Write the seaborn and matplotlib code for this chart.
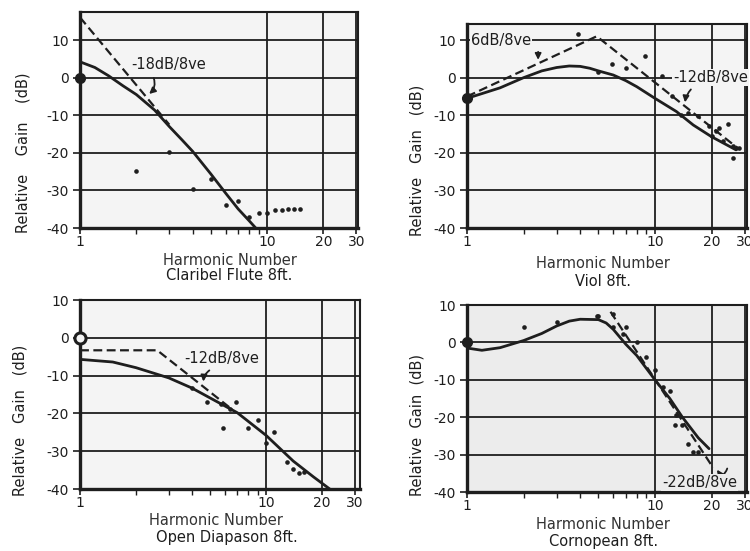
import matplotlib
matplotlib.use("Agg")
import matplotlib.pyplot as plt
import seaborn as sns
from matplotlib.ticker import FixedLocator, FixedFormatter, NullFormatter

sns.set_theme(style="ticks")
plt.rcParams['font.family'] = ['DejaVu Sans']
plt.rcParams['axes.unicode_minus'] = False

INK = '#1e1e1e'

# ---- Claribel Flute 8ft. ----
flute_curve_x = [1, 1.2, 1.42, 1.7, 2, 2.5, 3, 3.5, 4, 5, 6, 7, 8, 8.7]
flute_curve_y = [4.2, 2.7, 0.5, -2.2, -4.5, -8.6, -13.0, -16.5, -19.6, -25.6, -30.7, -34.9, -38.0, -40.0]
flute_dash_x = [1, 3]
flute_dash_y = [16, -12.5]
flute_pts_x = [2, 3, 4, 5, 6, 7, 8, 9, 10, 11, 12, 13, 14, 15]
flute_pts_y = [-24.9, -19.7, -29.7, -27.0, -33.9, -32.9, -37.0, -36.1, -36.0, -35.2, -35.1, -35.0, -35.0, -35.0]

# ---- Viol 8ft. ----
viol_curve_x = [1, 1.5, 2, 2.5, 3, 3.5, 4, 4.5, 5, 6, 7, 8, 10, 13, 16, 20, 27]
viol_curve_y = [-5.5, -2.7, 0.0, 1.8, 2.7, 3.1, 3.0, 2.5, 1.8, 0.7, -0.8, -2.4, -5.5, -9.0, -12.6, -15.7, -19.2]
viol_dash_x = [1, 4.9, 28]
viol_dash_y = [-5.0, 11.0, -19.0]
viol_pts_x = [3.9, 5.0, 5.9, 7.0, 8.9, 10.9, 12.3, 13.7, 15, 17, 19.5, 20, 21, 22, 23, 24.6, 26, 26, 27, 28]
viol_pts_y = [11.5, 1.6, 3.5, 2.5, 5.8, 0.5, -5.0, -9.8, -9.4, -10.3, -12.9, -15.5, -14.2, -13.3, -16.8, -12.3, -18.2, -21.4, -18.6, -18.8]

# ---- Open Diapason 8ft. ----
diap_curve_x = [1, 1.5, 2, 3, 4, 5, 7, 10, 14, 18, 22]
diap_curve_y = [-5.7, -6.4, -7.9, -10.6, -13.3, -15.9, -19.8, -25.8, -32.6, -36.8, -40.0]
diap_dash_x = [1, 2.6, 6.4]
diap_dash_y = [-3.3, -3.3, -18.5]
diap_pts_x = [4, 4.8, 5.7, 6.4, 5.9, 6.9, 8, 9, 10, 11, 13, 14, 15, 16]
diap_pts_y = [-13.2, -17.0, -17.4, -18.9, -23.8, -17.0, -23.8, -21.8, -27.9, -24.9, -32.8, -34.7, -35.8, -35.6]

# ---- Cornopean 8ft. ----
corn_curve_x = [1, 1.2, 1.5, 2, 2.5, 3, 3.5, 4, 5, 5.5, 6, 7, 8, 10, 12, 14, 17, 19.4]
corn_curve_y = [-1.5, -2.1, -1.4, 0.5, 2.4, 4.4, 5.7, 6.2, 6.1, 5.2, 3.5, -0.5, -3.5, -10.0, -15.0, -20.0, -25.5, -28.4]
corn_dash_x = [5.8, 20.4]
corn_dash_y = [8.2, -33.5]
corn_pts_x = [2, 3, 4.9, 5, 6, 6, 6.8, 7, 8, 9, 10, 11, 12, 13, 12.8, 14, 15, 16, 17]
corn_pts_y = [4.1, 5.4, 7.2, 7.2, 7.6, 4.1, 2.3, 4.0, 0.0, -3.9, -7.3, -12.0, -13.0, -19.5, -22.0, -22.0, -27.2, -29.2, -29.2]

fig = plt.figure(figsize=(7.5, 5.51), dpi=100)
fig.patch.set_facecolor('white')


def setup_axes(ax, xmax, ymax, face):
    ax.set_xscale('log')
    ax.set_xlim(1, xmax)
    ax.set_ylim(-40, ymax)
    ax.set_facecolor(face)
    ax.xaxis.set_major_locator(FixedLocator([1, 10, 20, 30]))
    ax.xaxis.set_major_formatter(FixedFormatter(['1', '10', '20', '30']))
    ax.xaxis.set_minor_locator(FixedLocator([2, 3, 4, 5, 6, 7, 8, 9]))
    ax.xaxis.set_minor_formatter(NullFormatter())
    ax.yaxis.set_major_locator(FixedLocator([-40, -30, -20, -10, 0, 10]))
    ax.grid(True, which='major', color=INK, lw=1.3)
    ax.set_axisbelow(True)
    ax.tick_params(axis='x', which='major', length=4, width=1.2, labelsize=10,
                   color=INK, labelcolor=INK, pad=1)
    ax.tick_params(axis='x', which='minor', length=4, width=1.0, color=INK)
    ax.tick_params(axis='y', length=5, width=1.2, labelsize=10, color=INK,
                   labelcolor=INK, pad=3)
    for side in ['top', 'right']:
        ax.spines[side].set_color(INK)
        ax.spines[side].set_linewidth(1.5)
    for side in ['left', 'bottom']:
        ax.spines[side].set_color(INK)
        ax.spines[side].set_linewidth(2.4)


def draw_panel(ax, cx, cy, dx, dy, px, py, name, label_pos, ylab_pos, ylab):
    sns.lineplot(x=cx, y=cy, ax=ax, color=INK, lw=2.0, estimator=None, sort=True)
    sns.lineplot(x=dx, y=dy, ax=ax, color=INK, lw=1.6, estimator=None,
                 linestyle=(0, (4, 2)))
    sns.scatterplot(x=px, y=py, ax=ax, color=INK, s=11, linewidth=0, zorder=4)
    ax.set_ylabel(ylab, fontsize=10.5, color=INK, va='center')
    ax.yaxis.set_label_coords(*ylab_pos)
    ax.set_xlabel('Harmonic Number', fontsize=10.5, color='#333333', va='center')
    ax.xaxis.set_label_coords(label_pos[0], label_pos[1])
    ax.text(label_pos[2], label_pos[3], name, transform=ax.transAxes,
            ha='center', va='center', fontsize=10.5, color=INK)


arrow = dict(arrowstyle='-|>', color=INK, lw=1.3, mutation_scale=9)

# Claribel Flute
ax1 = fig.add_axes([0.1067, 0.586, 0.371, 0.3926])
setup_axes(ax1, 30.7, 17.5, '#f4f4f4')
draw_panel(ax1, flute_curve_x, flute_curve_y, flute_dash_x, flute_dash_y,
           flute_pts_x, flute_pts_y, 'Claribel Flute 8ft.',
           (0.54, -0.151, 0.536, -0.219), (-0.205, 0.35),
           'Relative    Gain    (dB)')
ax1.plot([1], [0], 'o', color=INK, ms=7, clip_on=False, zorder=6)
ax1.text(2.96, 3.4, '-18dB/8ve', ha='center', va='center', fontsize=10.5, color=INK)
ax1.annotate('', xy=(2.28, -4.8), xytext=(2.45, 0.6),
             arrowprops=dict(arrow, connectionstyle='arc3,rad=-0.4'))

# Viol
ax2 = fig.add_axes([0.6227, 0.586, 0.3737, 0.370])
setup_axes(ax2, 31, 14.2, '#f4f4f4')
draw_panel(ax2, viol_curve_x, viol_curve_y, viol_dash_x, viol_dash_y,
           viol_pts_x, viol_pts_y, 'Viol 8ft.',
           (0.486, -0.172, 0.486, -0.26), (-0.179, 0.333),
           'Relative   Gain   (dB)')
ax2.plot([1], [-5.5], 'o', color=INK, ms=7, clip_on=False, zorder=6)
ax2.text(1.05, 10, '6dB/8ve', ha='left', va='center', fontsize=10.5, color=INK,
         bbox=dict(boxstyle='square,pad=0.05', fc='#f4f4f4', ec='none'), zorder=5)
ax2.annotate('', xy=(2.39, 4.0), xytext=(2.39, 7.6), arrowprops=arrow)
ax2.text(12.5, 0, '-12dB/8ve', ha='left', va='center', fontsize=10.5, color=INK,
         clip_on=False, bbox=dict(boxstyle='square,pad=0.05', fc='#f4f4f4', ec='none'),
         zorder=5)
ax2.annotate('', xy=(14.4, -7.3), xytext=(15.9, -2.6),
             arrowprops=dict(arrow, connectionstyle='arc3,rad=0.2'))

# Open Diapason
ax3 = fig.add_axes([0.1067, 0.1125, 0.3733, 0.343])
setup_axes(ax3, 32, 10, '#f4f4f4')
draw_panel(ax3, diap_curve_x, diap_curve_y, diap_dash_x, diap_dash_y,
           diap_pts_x, diap_pts_y, 'Open Diapason 8ft.',
           (0.486, -0.164, 0.525, -0.259), (-0.214, 0.365),
           'Relative   Gain   (dB)')
ax3.plot([1], [0], 'o', mfc='#f4f4f4', mec=INK, mew=2.2, ms=8, clip_on=False, zorder=6)
ax3.text(5.8, -5.4, '-12dB/8ve', ha='center', va='center', fontsize=10.5, color=INK)
ax3.annotate('', xy=(4.6, -12.3), xytext=(5.1, -8.2),
             arrowprops=dict(arrow, connectionstyle='arc3,rad=0.3'))

# Cornopean
ax4 = fig.add_axes([0.6227, 0.107, 0.3737, 0.3394])
setup_axes(ax4, 31, 10, '#ececec')
draw_panel(ax4, corn_curve_x, corn_curve_y, corn_dash_x, corn_dash_y,
           corn_pts_x, corn_pts_y, 'Cornopean 8ft.',
           (0.486, -0.172, 0.486, -0.264), (-0.179, 0.36),
           'Relative  Gain  (dB)')
ax4.plot([1], [0], 'o', color=INK, ms=7, clip_on=False, zorder=6)
ax4.text(17.3, -37.4, '-22dB/8ve', ha='center', va='center', fontsize=10.5, color=INK,
         bbox=dict(boxstyle='square,pad=0.05', fc='#ececec', ec='none'), zorder=5)
ax4.annotate('', xy=(21.0, -33.4), xytext=(24.5, -33.0),
             arrowprops=dict(arrow, connectionstyle='arc3,rad=-1.2'))

fig.savefig('out.png', dpi=100)
